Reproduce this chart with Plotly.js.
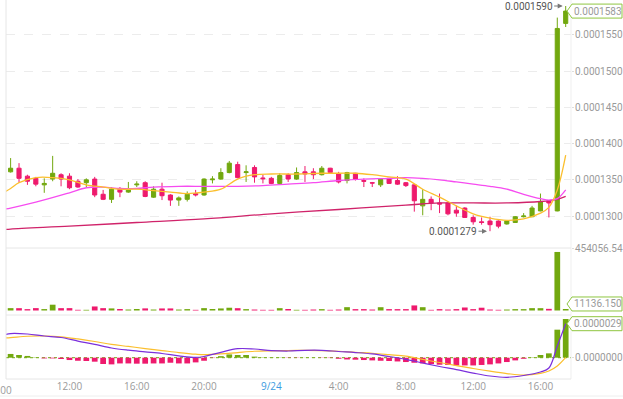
<!DOCTYPE html>
<html><head><meta charset="utf-8">
<script src="https://cdn.plot.ly/plotly-3.0.1.min.js"></script>
<style>html,body{margin:0;padding:0;background:#fff;overflow:hidden}#chart{width:623px;height:399px}</style>
</head><body><div id="chart"></div>
<script>
const times = ["2018-09-23 08:00","2018-09-23 08:30","2018-09-23 09:00","2018-09-23 09:30","2018-09-23 10:00","2018-09-23 10:30","2018-09-23 11:00","2018-09-23 11:30","2018-09-23 12:00","2018-09-23 12:30","2018-09-23 13:00","2018-09-23 13:30","2018-09-23 14:00","2018-09-23 14:30","2018-09-23 15:00","2018-09-23 15:30","2018-09-23 16:00","2018-09-23 16:30","2018-09-23 17:00","2018-09-23 17:30","2018-09-23 18:00","2018-09-23 18:30","2018-09-23 19:00","2018-09-23 19:30","2018-09-23 20:00","2018-09-23 20:30","2018-09-23 21:00","2018-09-23 21:30","2018-09-23 22:00","2018-09-23 22:30","2018-09-23 23:00","2018-09-23 23:30","2018-09-24 00:00","2018-09-24 00:30","2018-09-24 01:00","2018-09-24 01:30","2018-09-24 02:00","2018-09-24 02:30","2018-09-24 03:00","2018-09-24 03:30","2018-09-24 04:00","2018-09-24 04:30","2018-09-24 05:00","2018-09-24 05:30","2018-09-24 06:00","2018-09-24 06:30","2018-09-24 07:00","2018-09-24 07:30","2018-09-24 08:00","2018-09-24 08:30","2018-09-24 09:00","2018-09-24 09:30","2018-09-24 10:00","2018-09-24 10:30","2018-09-24 11:00","2018-09-24 11:30","2018-09-24 12:00","2018-09-24 12:30","2018-09-24 13:00","2018-09-24 13:30","2018-09-24 14:00","2018-09-24 14:30","2018-09-24 15:00","2018-09-24 15:30","2018-09-24 16:00","2018-09-24 16:30","2018-09-24 17:00","2018-09-24 17:30"];
const open = [0.0001341,0.0001361,0.0001366,0.0001355,0.0001352,0.0001343,0.0001351,0.0001357,0.0001355,0.0001348,0.0001346,0.0001351,0.0001330,0.0001323,0.0001337,0.0001333,0.0001343,0.0001346,0.0001326,0.0001337,0.0001329,0.0001322,0.0001323,0.0001331,0.0001329,0.0001350,0.0001351,0.0001360,0.0001371,0.0001360,0.0001367,0.00013525,0.0001352,0.0001345,0.0001357,0.0001351,0.0001361,0.0001361,0.0001357,0.0001366,0.0001358,0.0001349,0.0001359,0.0001349,0.0001346,0.0001343,0.0001352,0.0001349,0.0001346,0.0001343,0.0001314,0.0001323,0.0001318,0.0001318,0.0001308,0.0001311,0.0001298,0.0001292,0.0001293,0.0001293,0.0001289,0.0001291,0.0001299,0.0001299,0.0001307,0.0001321,0.0001307,0.0001566];
const high = [0.0001361,0.0001380,0.0001373,0.0001357,0.0001354,0.0001352,0.0001383,0.0001359,0.0001359,0.0001351,0.0001352,0.0001354,0.0001336,0.0001340,0.0001340,0.0001347,0.0001348,0.0001348,0.0001341,0.0001346,0.0001330,0.0001327,0.0001334,0.0001336,0.0001352,0.0001355,0.0001366,0.0001376,0.0001375,0.0001370,0.0001370,0.0001357,0.0001354,0.0001359,0.0001359,0.0001367,0.0001369,0.0001366,0.0001369,0.00013665,0.0001361,0.0001361,0.00013595,0.0001352,0.0001347,0.00013515,0.00013525,0.0001355,0.0001347,0.0001344,0.0001337,0.0001327,0.0001331,0.00013185,0.0001314,0.0001312,0.0001301,0.0001298,0.0001299,0.0001294,0.00012945,0.0001300,0.0001304,0.0001314,0.0001331,0.0001322,0.0001574,0.0001590];
const low = [0.0001339,0.0001360,0.0001346,0.0001343,0.0001341,0.0001332,0.0001348,0.0001341,0.0001337,0.0001339,0.0001340,0.0001326,0.0001322,0.0001318,0.0001326,0.0001332,0.0001340,0.0001326,0.0001325,0.0001322,0.0001314,0.0001314,0.0001320,0.0001327,0.0001328,0.0001345,0.0001350,0.0001359,0.0001352,0.0001347,0.0001346,0.0001345,0.0001344,0.0001344,0.0001347,0.0001350,0.0001347,0.0001351,0.0001356,0.0001359,0.0001345,0.0001345,0.0001349,0.0001340,0.0001340,0.0001340,0.00013445,0.0001343,0.0001340,0.0001306,0.0001301,0.0001308,0.0001304,0.0001301,0.0001299,0.00012975,0.0001288,0.0001288,0.0001279,0.0001283,0.0001288,0.00012905,0.0001298,0.00012985,0.00013065,0.0001298,0.00013065,0.0001561];
const close = [0.0001358,0.0001366,0.0001352,0.0001348,0.0001344,0.0001345,0.0001359,0.0001351,0.0001339,0.0001340,0.0001350,0.0001329,0.0001323,0.0001337,0.0001333,0.0001337,0.0001344,0.0001327,0.0001337,0.0001328,0.0001322,0.0001325,0.0001330,0.0001329,0.0001351,0.0001351,0.0001360,0.0001373,0.0001353,0.0001361,0.0001354,0.00013515,0.0001345,0.0001356,0.0001351,0.0001360,0.0001358,0.0001357,0.0001366,0.0001360,0.0001347,0.0001360,0.0001351,0.0001348,0.00013455,0.0001351,0.0001345,0.0001344,0.0001342,0.0001321,0.0001323,0.0001318,0.00013165,0.0001303,0.0001304,0.0001298,0.0001292,0.0001291,0.0001288,0.0001286,0.0001293,0.0001299,0.0001300,0.0001311,0.0001320,0.0001318,0.0001559,0.0001583];
const volume = [15230,17120,16840,9870,17310,10240,42150,16980,17250,5120,4980,29340,17060,15180,11020,7140,10860,15310,7050,14870,15020,6920,10130,4890,17240,11080,14950,20120,16870,9940,7080,5030,4960,16920,11140,5060,4940,7120,9880,5010,7030,24180,9960,10070,6950,23870,10040,9920,10110,36940,24060,4970,10080,6990,10020,21860,9940,20240,7010,5060,6980,10050,9970,17080,16930,12040,425300,11136.15];
const macdHist = [3.0e-7,3.2e-7,2.3e-7,1.5e-7,0.3e-7,-0.6e-7,-0.6e-7,-1.1e-7,-2.0e-7,-2.6e-7,-2.8e-7,-3.4e-7,-5.4e-7,-5.7e-7,-4.9e-7,-4.9e-7,-5.1e-7,-5.1e-7,-4.9e-7,-4.9e-7,-4.3e-7,-4.9e-7,-4.9e-7,-4.0e-7,-2.6e-7,-0.3e-7,1.3e-7,2.8e-7,2.3e-7,2.3e-7,0.9e-7,0.3e-7,0.2e-7,0.2e-7,-0.2e-7,-0.2e-7,0.1e-7,0.1e-7,-0.2e-7,-0.3e-7,-0.9e-7,-1.5e-7,-1.7e-7,-2.0e-7,-2.3e-7,-2.6e-7,-2.8e-7,-3.2e-7,-3.7e-7,-4.3e-7,-4.9e-7,-5.4e-7,-6.0e-7,-6.2e-7,-6.6e-7,-6.6e-7,-6.6e-7,-6.2e-7,-5.7e-7,-4.9e-7,-3.7e-7,-2.3e-7,-0.9e-7,0.3e-7,2.3e-7,3.7e-7,23.9e-7,33.0e-7];

// moving averages at selected candles
const maShortIdx = [0,1,2,4,6,8,10,12,14,16,18,20,22,24,26,28,30,32,35,38,40,42,44,46,48,50,52,54,56,58,60,62,64,65,66,67];
const maShort = [0.0001331,0.0001338,0.0001346,0.0001353,0.0001353,0.0001350,0.0001343,0.0001340,0.0001337,0.0001337,0.0001335,0.0001333,0.0001331,0.0001333,0.0001337,0.0001351,0.0001357,0.0001358,0.0001358,0.0001359,0.0001359,0.0001359,0.0001357,0.0001354,0.0001351,0.0001337,0.0001326,0.0001314,0.0001303,0.0001297,0.0001294,0.0001296,0.0001304,0.0001312,0.0001336,0.0001384];
const maMidIdx = [0,1,4,8,10,12,14,16,18,21,24,28,31,34,37,40,43,46,48,50,52,54,56,58,60,62,64,65,66,67];
const maMid = [0.0001309,0.0001311,0.0001319,0.0001332,0.0001339,0.0001340,0.0001338,0.0001338,0.0001340,0.0001341,0.0001341,0.0001341,0.0001342,0.0001344,0.0001346,0.0001349,0.0001351,0.0001352,0.0001353,0.0001352,0.0001350,0.0001347,0.0001344,0.0001341,0.0001337,0.0001330,0.0001324,0.0001322,0.0001324,0.0001336];
const maLongIdx = [0,1,8,16,24,32,40,48,52,56,60,64,66,67];
const maLong = [0.0001281,0.0001282,0.0001286,0.0001291,0.0001296,0.0001303,0.0001309,0.0001315,0.0001318,0.0001318,0.0001318,0.0001320,0.0001323,0.0001327];
const macdIdx = [0,1,3,5,7,9,11,13,15,17,19,21,23,24,26,28,30,32,34,36,38,40,42,44,46,48,50,52,54,56,58,60,62,64,65,66,67];
const macdDif = [19.0e-7,20.6e-7,20.2e-7,18.5e-7,17.2e-7,14.2e-7,11.4e-7,8.3e-7,6.4e-7,5.0e-7,3.6e-7,1.6e-7,0.2e-7,1.0e-7,4.6e-7,7.7e-7,7.4e-7,6.1e-7,5.7e-7,6.3e-7,6.3e-7,5.3e-7,4.4e-7,3.2e-7,1.0e-7,-1.5e-7,-4.5e-7,-7.5e-7,-10.2e-7,-13.1e-7,-15.6e-7,-16.7e-7,-15.2e-7,-12.2e-7,-8.8e-7,10.0e-7,29.0e-7];
const macdDea = [16.8e-7,17.2e-7,18.3e-7,18.5e-7,17.8e-7,16.0e-7,13.8e-7,11.3e-7,9.6e-7,7.8e-7,6.1e-7,4.4e-7,3.0e-7,2.6e-7,3.2e-7,4.4e-7,5.5e-7,5.9e-7,6.1e-7,6.2e-7,6.1e-7,5.5e-7,4.6e-7,3.8e-7,2.6e-7,1.3e-7,-1.5e-7,-4.1e-7,-6.7e-7,-9.2e-7,-11.5e-7,-13.5e-7,-14.8e-7,-13.3e-7,-11.3e-7,-7.1e-7,0.2e-7];
const xTickIdx = [8,16,24,32,40,48,56,64];
const xTickText = ['12:00','16:00','20:00','<span style="color:#3d9be0">9/24</span>','4:00','8:00','12:00','16:00'];
const priceTicks = [0.00013,0.000135,0.00014,0.000145,0.00015,0.000155];

const G = '#72a80f', P = '#ee1a6d';
const PH = 379; // plot height in px
const dom = (a,b)=>[1-b/PH, 1-a/PH];
const last = times.length-1;
const at = idx => idx.map(i=>times[i]);
const barW = 30*60*1000*0.68;

const traces = [
  {type:'candlestick', x:times, open:open, high:high, low:low, close:close, xaxis:'x', yaxis:'y',
   increasing:{line:{color:G,width:1},fillcolor:G}, decreasing:{line:{color:P,width:1},fillcolor:P},
   whiskerwidth:0, hoverinfo:'skip'},
  {type:'scatter', mode:'lines', x:at(maLongIdx), y:maLong, line:{color:'#d0236a',width:1.3,shape:'spline'}, xaxis:'x', yaxis:'y', hoverinfo:'skip'},
  {type:'scatter', mode:'lines', x:at(maMidIdx), y:maMid, line:{color:'#f64cf0',width:1.3,shape:'spline'}, xaxis:'x', yaxis:'y', hoverinfo:'skip'},
  {type:'scatter', mode:'lines', x:at(maShortIdx), y:maShort, line:{color:'#fbbf2e',width:1.3,shape:'spline'}, xaxis:'x', yaxis:'y', hoverinfo:'skip'},
  {type:'bar', x:times, y:volume, width:barW, marker:{color:close.map((c,i)=>c>=open[i]?G:P)}, xaxis:'x', yaxis:'y2', hoverinfo:'skip'},
  {type:'bar', x:times, y:macdHist, width:barW, marker:{color:macdHist.map(v=>v>=0?G:P)}, xaxis:'x', yaxis:'y3', hoverinfo:'skip'},
  {type:'scatter', mode:'lines', x:at(macdIdx), y:macdDea, line:{color:'#fbbf2e',width:1.2,shape:'spline'}, xaxis:'x', yaxis:'y3', hoverinfo:'skip'},
  {type:'scatter', mode:'lines', x:at(macdIdx), y:macdDif, line:{color:'#7b2fdc',width:1.2,shape:'spline'}, xaxis:'x', yaxis:'y3', hoverinfo:'skip'}
];

const FAM = 'Roboto, Open Sans, sans-serif';
const tickFont = {family:FAM, size:10, color:'#9a9a9a'};
const xTickFont = {family:'Open Sans, sans-serif', size:10, color:'#9a9a9a'};
const volTop = 454056.54;
const grey = '#e6e6e6';
const callout = (yref, yv, dy) => ({type:'path', xref:'paper', yref:yref, xsizemode:'pixel', ysizemode:'pixel', xanchor:1, yanchor:yv,
   path:`M -4 ${dy} L 1 ${dy+7} L 51 ${dy+7} L 51 ${dy-7} L 1 ${dy-7} Z`, line:{color:'#8fc641',width:1}, fillcolor:'#ffffff', layer:'above'});
const hl = (y)=>({type:'line', xref:'paper', yref:'paper', x0:0, x1:1, y0:y, y1:y, line:{color:grey,width:1}});
const yCommon = {side:'right', anchor:'x', zeroline:false, ticks:'outside', ticklen:2, tickcolor:'#dddddd', tickfont:tickFont, ticklabelstandoff:-1};

const layout = {
  width:623, height:399, margin:{l:6, r:52, t:0, b:20},
  paper_bgcolor:'#fff', plot_bgcolor:'#fff', showlegend:false, hovermode:false,
  font:{family:FAM},
  bargap:0.3,
  xaxis:{type:'date', range:['2018-09-23 08:13:33','2018-09-24 17:48:54'], anchor:'y3', rangeslider:{visible:false},
         showgrid:false, zeroline:false, showline:false, ticks:'', tickvals:at(xTickIdx), ticktext:xTickText, tickfont:xTickFont},
  yaxis:Object.assign({domain:dom(0,248), range:[0.00012558,0.00015983], tickvals:priceTicks, tickformat:'.7f',
         showgrid:true, gridcolor:'#ececec', griddash:'dash'}, yCommon),
  yaxis2:Object.assign({domain:dom(248,314), range:[-25427, volTop+40], tickvals:[volTop], ticktext:[volTop.toFixed(2)], showgrid:false}, yCommon),
  yaxis3:Object.assign({domain:dom(315,379), range:[-1.817e-6, 3.642e-6], tickvals:[0], ticktext:['0.0000000'], showgrid:false}, yCommon),
  shapes:[
    {type:'line', xref:'paper', yref:'paper', x0:0, x1:0, y0:0, y1:1, line:{color:grey,width:1}},
    {type:'line', xref:'paper', yref:'paper', x0:1, x1:1, y0:0, y1:1, line:{color:'#efefef',width:1}},
    hl(1-248/PH), hl(1-315/PH), hl(0),
    {type:'line', xref:'paper', yref:'paper', x0:-0.02, x1:1.1, y0:-17/PH, y1:-17/PH, line:{color:'#eeeeee',width:1}},
    {type:'line', xref:'paper', yref:'y3', x0:0, x1:1, y0:0, y1:0, line:{color:G,width:1,dash:'3px,3px'}, layer:'below'},
    callout('y', close[last], 0),
    callout('y2', volume[last], 5),
    callout('y3', macdDif[macdDif.length-1], 0)
  ],
  annotations:[
    {xref:'paper', yref:'paper', x:-3.8/565, y:0, xanchor:'center', yanchor:'top', yshift:-2, text:'8:00', showarrow:false, font:xTickFont},
    {xref:'x', yref:'y', x:times[last], y:high[last], text:high[last].toFixed(7), showarrow:true, ax:-37, ay:0,
     arrowhead:2, arrowsize:1, arrowwidth:1, arrowcolor:'#777', standoff:3, font:{family:FAM, size:10, color:'#555'}},
    {xref:'x', yref:'y', x:times[58], y:low[58], text:low[58].toFixed(7), showarrow:true, ax:-37, ay:0,
     arrowhead:2, arrowsize:1, arrowwidth:1, arrowcolor:'#777', standoff:3, font:{family:FAM, size:10, color:'#555'}},
    {xref:'paper', yref:'y', x:1, y:close[last], xanchor:'left', xshift:1, text:close[last].toFixed(7), showarrow:false, font:tickFont},
    {xref:'paper', yref:'y2', x:1, y:volume[last], xanchor:'left', xshift:1, yshift:5, text:volume[last].toFixed(3), showarrow:false, font:tickFont},
    {xref:'paper', yref:'y3', x:1, y:macdDif[macdDif.length-1], xanchor:'left', xshift:1, text:macdDif[macdDif.length-1].toFixed(7), showarrow:false, font:tickFont}
  ]
};
Plotly.newPlot('chart', traces, layout, {staticPlot:true, displayModeBar:false});
</script></body></html>
